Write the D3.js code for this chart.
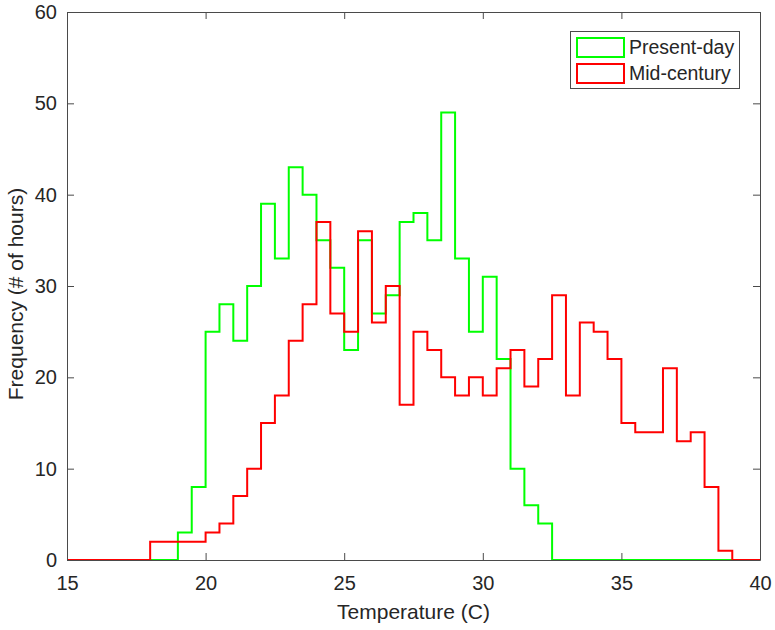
<!DOCTYPE html>
<html>
<head>
<meta charset="utf-8">
<script src="https://cdn.jsdelivr.net/npm/d3@7"></script>
<style>
  html, body { margin: 0; padding: 0; background: #fff; }
  svg { display: block; }
  text { font-family: "Liberation Sans", Arial, Helvetica, sans-serif; fill: #262626; }
</style>
</head>
<body>
<svg id="chart" width="775" height="630"></svg>
<script>
// Bin edges (C), bin width 0.5
const binEdges = [15,15.5,16,16.5,17,17.5,18,18.5,19,19.5,20,20.5,21,21.5,22,22.5,23,23.5,24,24.5,
  25,25.5,26,26.5,27,27.5,28,28.5,29,29.5,30,30.5,31,31.5,32,32.5,33,33.5,34,34.5,
  35,35.5,36,36.5,37,37.5,38,38.5,39,39.5,40];

// Counts per bin (50 bins)
const presentDay = [0,0,0,0,0,0,0,0,
  3,8,25,28,24,30,39,33,43,40,35,32,23,35,27,29,37,38,35,49,33,25,31,22,10,6,4,
  0,0,0,0,0,0,0,0,0,0,0,0,0,0,0];
const midCentury = [0,0,0,0,0,0,
  2,2,2,2,3,4,7,10,15,18,24,28,37,27,25,36,26,30,17,25,23,20,18,20,18,21,23,19,22,
  29,18,26,25,22,15,14,14,21,13,14,8,1,
  0,0];

const xTicks = [15,20,25,30,35,40];
const yTicks = [0,10,20,30,40,50,60];
const seriesNames = ["Present-day","Mid-century"];
const seriesColors = ["#00ff00","#ff0000"];

const W = 775, H = 630;
const L = 67, R = 760, T = 12, B = 560;
const svg = d3.select("#chart");

const x = d3.scaleLinear().domain([15,40]).range([L,R]);
const y = d3.scaleLinear().domain([0,60]).range([B,T]);

const axisColor = "#4a4a4a";
const textColor = "#262626";
const tickLen = 7;

// Stairs
function stairPoints(vals) {
  const pts = vals.map((v,i) => [binEdges[i], v]);
  pts.push([binEdges[binEdges.length-1], vals[vals.length-1]]);
  return pts;
}
const line = d3.line().x(d => x(d[0])).y(d => y(d[1])).curve(d3.curveStepAfter);

const plot = svg.append("g");
[presentDay, midCentury].forEach((vals, k) => {
  plot.append("path")
    .attr("d", line(stairPoints(vals)))
    .attr("fill", "none")
    .attr("stroke", seriesColors[k])
    .attr("stroke-width", 2)
    .attr("stroke-linejoin", "miter");
});

// Axes (MATLAB style: box, inward ticks on all sides)
const xAxisB = d3.axisBottom(x).tickValues(xTicks).tickSizeInner(-tickLen).tickSizeOuter(0).tickPadding(16);
const xAxisT = d3.axisTop(x).tickValues(xTicks).tickSizeInner(-tickLen).tickSizeOuter(0).tickFormat("");
const yAxisL = d3.axisLeft(y).tickValues(yTicks).tickSizeInner(-tickLen).tickSizeOuter(0).tickPadding(10);
const yAxisR = d3.axisRight(y).tickValues(yTicks).tickSizeInner(-tickLen).tickSizeOuter(0).tickFormat("");

function style(g) {
  g.select(".domain").attr("stroke", axisColor).attr("stroke-width", 1);
  g.selectAll(".tick line").attr("stroke", axisColor).attr("stroke-width", 1);
  g.selectAll(".tick text").attr("fill", textColor).style("font-size", "20px")
    .style("font-family", "'Liberation Sans', Arial, sans-serif");
}
svg.append("g").attr("transform", `translate(0,${B})`).call(xAxisB).call(style);
svg.append("g").attr("transform", `translate(0,${T})`).call(xAxisT).call(style);
svg.append("g").attr("transform", `translate(${L},0)`).call(yAxisL).call(style);
svg.append("g").attr("transform", `translate(${R},0)`).call(yAxisR).call(style);

// Axis titles
svg.append("text")
  .attr("x", (L+R)/2).attr("y", 619)
  .attr("text-anchor", "middle")
  .style("font-size", "21px")
  .text("Temperature (C)");
svg.append("text")
  .attr("transform", `translate(23,${(T+B)/2 + 8}) rotate(-90)`)
  .attr("text-anchor", "middle")
  .style("font-size", "21px")
  .text("Frequency (# of hours)");

// Legend
const lg = svg.append("g");
lg.append("rect").attr("x", 570.5).attr("y", 31.5).attr("width", 169).attr("height", 57)
  .attr("fill", "#fff").attr("stroke", axisColor).attr("stroke-width", 1);
seriesNames.forEach((name, k) => {
  const yy = 38 + k*26;
  lg.append("rect").attr("x", 577).attr("y", yy).attr("width", 47).attr("height", 19)
    .attr("fill", "none").attr("stroke", seriesColors[k]).attr("stroke-width", 2);
  lg.append("text").attr("x", 629).attr("y", yy + 16)
    .style("font-size", "19.5px").text(name);
});
</script>
</body>
</html>
